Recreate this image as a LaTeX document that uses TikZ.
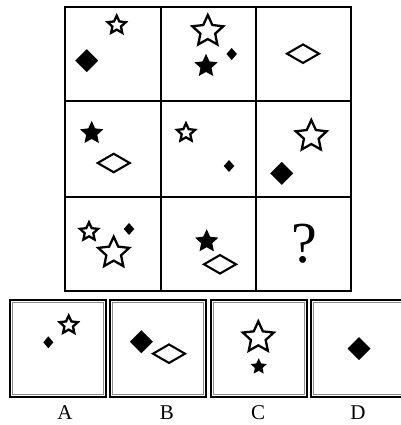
\documentclass[tikz,border=0pt]{standalone}
\usepackage{fontspec}
\setmainfont{Liberation Serif}
\usetikzlibrary{shapes.geometric}
\begin{document}
\begin{tikzpicture}[x=1pt,y=-1pt,
  every node/.style={inner sep=0pt, outer sep=0pt},
  ostar/.style={star, star points=5, star point ratio=2.1, draw, line width=2.3pt, fill=white, minimum size=#1},
  fstar/.style={star, star points=5, star point ratio=2.1, fill=black, minimum size=#1},
  fdia/.style 2 args={diamond, fill=black, minimum width=#1, minimum height=#2},
  odia/.style 2 args={diamond, draw, line width=2.1pt, minimum width=#1, minimum height=#2},
  gridline/.style={line width=2.4pt},
  optouter/.style={line width=2.4pt},
  optinner/.style={line width=0.7pt, draw=black!45},
  lab/.style={font=\fontsize{21}{23}\selectfont, anchor=base},
]
\useasboundingbox (0,0) rectangle (400,425);
% grid
\draw[gridline] (65,7) rectangle (351,291);
\draw[gridline] (161,7) -- (161,291) (256,7) -- (256,291);
\draw[gridline] (65,101) -- (351,101) (65,197) -- (351,197);
% row 1
\node[ostar=19pt] (s11) at (116.7,25.1) {};
\node[fdia={23pt}{23pt}] (d11) at (86.7,60.7) {};
\node[ostar=32.5pt] (s12a) at (207.8,31.3) {};
\node[fstar=24.5pt] (s12b) at (206,66.1) {};
\node[fdia={10.5pt}{12pt}] (d12) at (231.7,54) {};
\node[odia={32pt}{18.5pt}] (d13) at (303,53.7) {};
% row 2
\node[fstar=24.5pt] (s21) at (91.7,133.1) {};
\node[odia={32pt}{18.5pt}] (d21) at (113.7,163) {};
\node[ostar=19pt] (s22) at (186,132.8) {};
\node[fdia={10.5pt}{12pt}] (d22) at (229,166) {};
\node[ostar=32.5pt] (s23) at (311.3,136.3) {};
\node[fdia={23pt}{23pt}] (d23) at (281.7,173.3) {};
% row 3
\node[ostar=19pt] (s31a) at (89,231.8) {};
\node[ostar=32.5pt] (s31b) at (113.7,252.9) {};
\node[fdia={10.5pt}{12pt}] (d31) at (129,229) {};
\node[fstar=24.5pt] (s32) at (206.7,241.4) {};
\node[odia={32pt}{18.5pt}] (d32) at (220,264.3) {};
\node[font=\fontsize{58}{60}\selectfont] (q) at (304,244) {?};
% options
\foreach \x in {10,110,211,311}{
  \draw[optouter] (\x,300) rectangle (\x+96,397);
  \draw[optinner] (\x+2.4,302.4) rectangle (\x+93.6,394.6);
}
\node[fdia={10pt}{12pt}] (da) at (48.3,342.3) {};
\node[ostar=19pt] (sa) at (68.7,325.1) {};
\node[fdia={23pt}{23pt}] (db1) at (141.3,341.7) {};
\node[odia={32pt}{18.5pt}] (db2) at (169,353.7) {};
\node[ostar=32.5pt] (sc1) at (258.3,337.6) {};
\node[fstar=17pt] (sc2) at (258.7,366.7) {};
\node[fdia={23pt}{23pt}] (dd) at (359,348.7) {};
\node[lab] (la) at (65,419) {A};
\node[lab] (lb) at (167,419) {B};
\node[lab] (lc) at (258,419) {C};
\node[lab] (ld) at (358,419) {D};
\end{tikzpicture}
\end{document}
